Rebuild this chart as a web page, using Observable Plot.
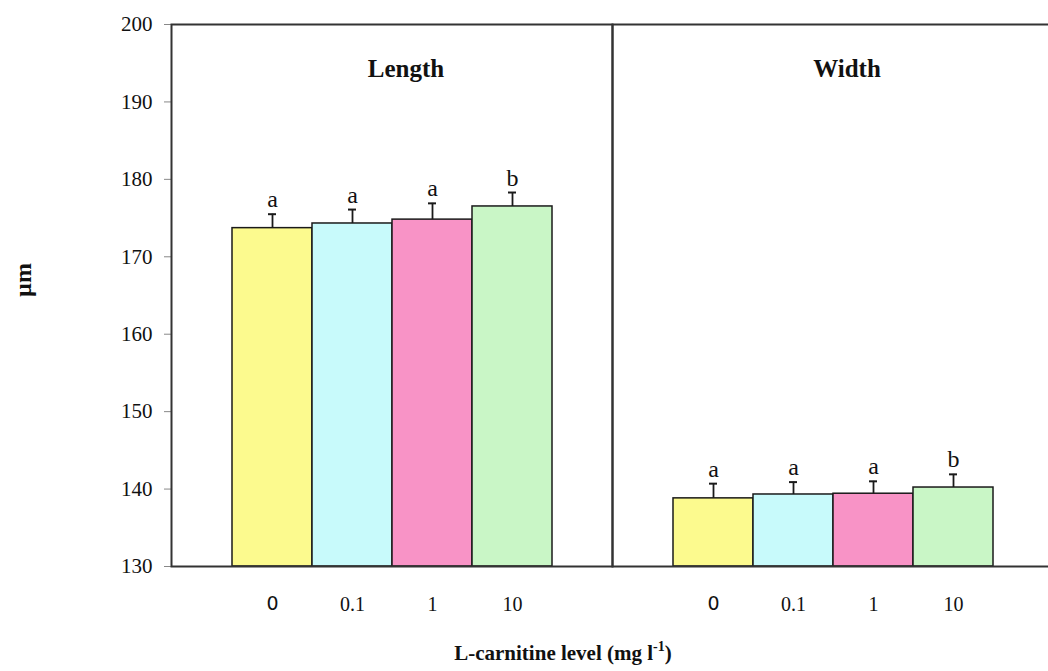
<!DOCTYPE html>
<html>
<head>
<meta charset="utf-8">
<script src="https://cdn.jsdelivr.net/npm/d3@7"></script>
<script src="https://cdn.jsdelivr.net/npm/@observablehq/plot@0.6"></script>
<style>
  html, body { margin: 0; padding: 0; background: #fff; overflow: hidden; }
</style>
</head>
<body>
<div id="chart"></div>
<script>
// Panels and L-carnitine levels (mg l-1)
const panels = ["Length", "Width"];
const levels = ["0", "0.1", "1", "10"];

// Mean size (µm) and error per level
const lengthMean = [173.7, 174.3, 174.8, 176.5];
const lengthErr  = [1.8, 1.8, 2.1, 1.8];
const widthMean  = [138.8, 139.3, 139.4, 140.2];
const widthErr   = [1.9, 1.6, 1.6, 1.7];

// Significance letters
const lengthLetters = ["a", "a", "a", "b"];
const widthLetters  = ["a", "a", "a", "b"];

const barColors = ["#fcfa8e", "#c8fafb", "#f893c6", "#c9f6c6"];
const yTicks = [130, 140, 150, 160, 170, 180, 190, 200];

const rows = [
  ...levels.map((level, i) => ({panel: "Length", level, mean: lengthMean[i], err: lengthErr[i], letter: lengthLetters[i]})),
  ...levels.map((level, i) => ({panel: "Width", level, mean: widthMean[i], err: widthErr[i], letter: widthLetters[i]}))
];
const errTop = d => d.mean + d.err;
const serif = "'Liberation Serif', 'Times New Roman', serif";

const chart = Plot.plot({
  width: 1058,
  height: 671,
  marginLeft: 171,
  marginRight: 5,
  marginTop: 24,
  marginBottom: 105,
  style: {fontFamily: serif, background: "white", color: "#111", maxWidth: "none"},
  fx: {domain: panels, paddingInner: 0, paddingOuter: 0, axis: null},
  x: {domain: levels, paddingInner: 0, paddingOuter: 0.74, axis: null},
  y: {domain: [130, 200], axis: null},
  color: {domain: levels, range: barColors},
  marks: [
    Plot.barY(rows, {fx: "panel", x: "level", y1: 130, y2: "mean", fill: "level", stroke: "#1a1a1a", strokeWidth: 1.5}),
    Plot.ruleX(rows, {fx: "panel", x: "level", y1: "mean", y2: errTop, stroke: "#1a1a1a", strokeWidth: 1.8}),
    Plot.tickY(rows, {fx: "panel", x: "level", y: errTop, insetLeft: 36, insetRight: 36, stroke: "#1a1a1a", strokeWidth: 2}),
    Plot.text(rows, {fx: "panel", x: "level", y: errTop, text: "letter", lineAnchor: "bottom", dy: -7, fontSize: 24}),
    Plot.text(panels, {fx: d => d, text: d => d, frameAnchor: "top", lineAnchor: "bottom", dy: 52, dx: 14, fontWeight: "bold", fontSize: 25}),
    Plot.axisY({ticks: yTicks, tickSize: 7, tickPadding: 12, fontSize: 21, stroke: "#888", label: null}),
    Plot.axisX(["0.1", "1", "10"], {tickSize: 0, tickPadding: 30, fontSize: 20, label: null}),
    Plot.axisX(["0"], {tickSize: 0, tickPadding: 30, fontSize: 19, fontFamily: "'DejaVu Sans', sans-serif", label: null}),
    Plot.frame({stroke: "#333", strokeWidth: 2})
  ]
});

const svg = d3.select(chart);

// Y axis title
svg.append("text")
  .attr("transform", "translate(31,280) rotate(-90)")
  .attr("text-anchor", "middle")
  .attr("font-family", serif)
  .attr("font-weight", "bold")
  .attr("font-size", 24)
  .attr("fill", "#111")
  .text("µm");

// X axis title with superscript unit
const xTitle = svg.append("text")
  .attr("x", 563)
  .attr("y", 660)
  .attr("text-anchor", "middle")
  .attr("font-family", serif)
  .attr("font-weight", "bold")
  .attr("font-size", 21)
  .attr("fill", "#111");
xTitle.append("tspan").text("L-carnitine level (mg l");
xTitle.append("tspan").attr("dy", -9).attr("font-size", 14).text("-1");
xTitle.append("tspan").attr("dy", 9).text(")");

document.getElementById("chart").appendChild(chart);
</script>
</body>
</html>
